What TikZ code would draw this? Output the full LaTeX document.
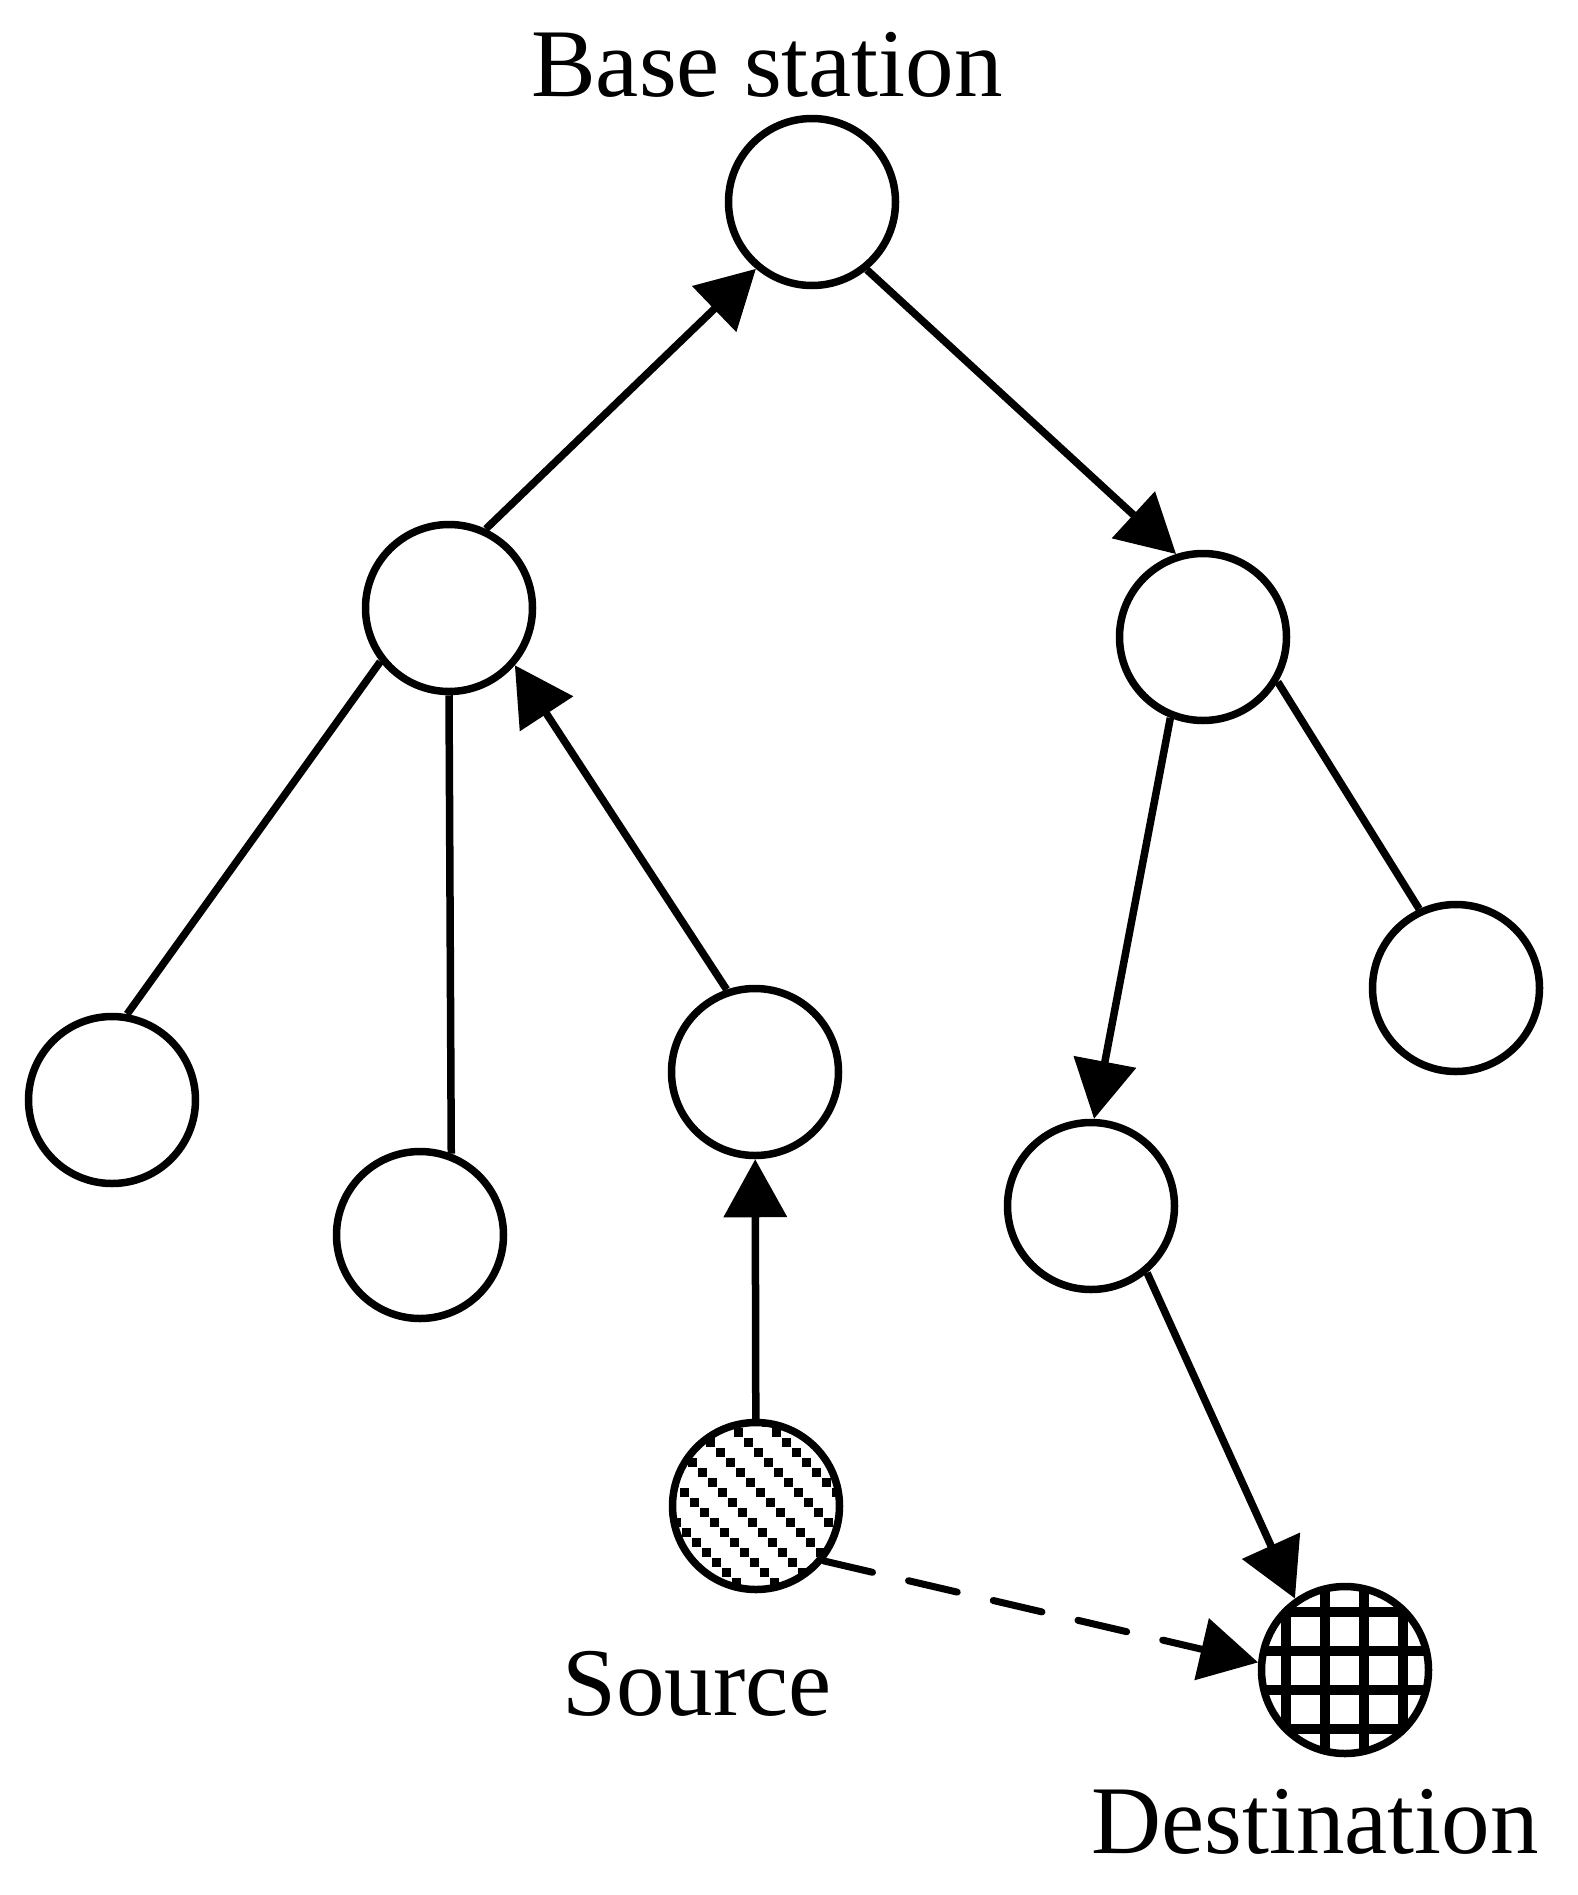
\documentclass[tikz,border=0pt]{standalone}
\usepackage{fontspec}
\setmainfont{Liberation Serif}
\usetikzlibrary{arrows.meta}
\begin{document}
\begin{tikzpicture}[x=1pt,y=-1pt,
  nd/.style={circle,draw,line width=7.5pt,minimum size=167pt,inner sep=0pt},
  lbl/.style={anchor=base,inner sep=0pt,font=\fontsize{97}{110}\selectfont},
  edge/.style={line width=7.5pt},
  arr/.style={line width=7.5pt,-{Triangle[length=58pt,width=62pt]}},
  darr/.style={line width=7pt,line cap=round,dash pattern=on 50pt off 37pt,-{Triangle[length=58pt,width=62pt]}}]
\path[use as bounding box] (0,0) rectangle (1578,1895);

% pattern fills
\begin{scope}
  \clip (756,1506) circle (82);
  \foreach \m in {-6,...,6}{
    \foreach \k in {-18,...,18}{
      \fill ({756-8+38*\m+10*\k-4.5},{1506-64+10*\k-4.5}) rectangle ++(9,9);
    }
  }
\end{scope}
\begin{scope}
  \clip (1345,1670) circle (82);
  \foreach \d in {-59,-20,19,58}{
    \fill ({1345+\d-5},1570) rectangle ++(10,200);
  }
  \foreach \d in {-58,-19,20,59}{
    \fill (1245,{1670+\d-5}) rectangle ++(200,10);
  }
\end{scope}

\node[nd] (B) at (812,202) {};
\node[nd] (LM) at (449,608) {};
\node[nd] (RM) at (1203,637) {};
\node[nd] (L1) at (112,1100) {};
\node[nd] (L2) at (420,1235) {};
\node[nd] (L3) at (755,1072) {};
\node[nd] (RL) at (1456,988) {};
\node[nd] (RC) at (1091,1206) {};
\node[nd] (S) at (756,1506) {};
\node[nd] (D) at (1345,1670) {};

\node[lbl] (tB) at (767,96) {Base station};
\node[lbl] (tS) at (697,1715) {Source};
\node[lbl] (tD) at (1315,1853) {Destination};

\draw[arr] (LM.65.6) -- (B.230.7);
\draw[arr] (B.309.2) -- (RM.108.9);
\draw[edge] (LM.218.5) -- (L1.80);
\draw[edge] (LM.south) -- (L2.69.5);
\draw[arr] (L3.109.7) -- (LM.319.2);
\draw[arr] (S) -- (L3);
\draw[arr] (RM.248.3) -- (RC.88.6);
\draw[edge] (RM.329.8) -- (RL.115.3);
\draw[arr] (RC.310.3) -- (D.125.3);
\draw[darr] (S.321) -- (D.175);
\end{tikzpicture}
\end{document}
